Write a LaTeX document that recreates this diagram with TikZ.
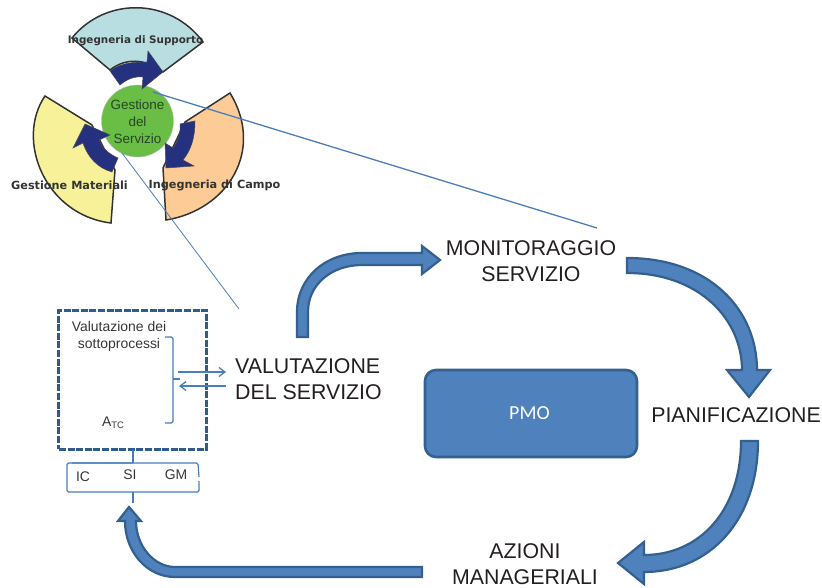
\documentclass[tikz,border=0pt]{standalone}
\usepackage{fontspec}
\setmainfont{Liberation Sans}
\newfontfamily\verdanaish{DejaVu Sans}
\newfontfamily\calibriish{Carlito}
\usetikzlibrary{arrows.meta}
\definecolor{lineblue}{HTML}{4A7EBB}
\definecolor{bigfill}{HTML}{4F81BD}
\definecolor{bigedge}{HTML}{33608F}
\definecolor{navyarrow}{HTML}{25307F}
\definecolor{inktext}{HTML}{231F20}
\tikzset{
  wedge/.style={draw=black!80,line width=1.5bp},
  navy/.style={fill=navyarrow,draw=black!70,line width=0.5bp},
  bigarrow/.style={fill=bigfill,draw=bigedge,line width=2.2bp,line join=miter},
  biglabel/.style={font=\fontsize{21.4}{26}\selectfont,text=inktext,align=center,inner sep=0pt},
  smalllabel/.style={font=\fontsize{14}{17}\selectfont,text=inktext!90,align=center,inner sep=0pt},
  wedgelabel/.style={font=\verdanaish\bfseries\fontsize{11.3}{12}\selectfont,text=black!80,inner sep=0pt},
  thinlink/.style={draw=lineblue,line width=1.3bp},
  bracket/.style={draw=lineblue,line width=1.2bp,rounded corners=1.5bp},
  flow/.style={draw=lineblue,line width=1.3bp,-{Straight Barb[length=6bp,width=9bp,line width=1.3bp]}}
}
\begin{document}
\begin{tikzpicture}[x=1bp,y=-1bp]
\useasboundingbox (0,0) rectangle (822,588);
% wedges
\draw[wedge,fill={rgb,255:red,184;green,222;blue,226}] (72,38) .. controls (105,-3) and (170,-3) .. (203,42) -- (163,72) .. controls (145,58) and (125,58) .. (110,70) -- cycle;
\draw[wedge,fill={rgb,255:red,247;green,242;blue,154}] (45,96) -- (92,125) -- (115,170) -- (111,223) .. controls (45,215) and (15,140) .. (45,96) -- cycle;
\draw[wedge,fill={rgb,255:red,252;green,203;blue,150}] (230,93) .. controls (265,150) and (228,210) .. (166,220) -- (163,168) -- (185,122) -- cycle;
% circle
\node[circle,draw=black!25,line width=0.4bp,fill={rgb,255:red,106;green,189;blue,69},minimum size=72bp,inner sep=0pt] (hub) at (137.5,121) {};
% navy arrows
\draw[navy] (110,71) .. controls (122,62) and (135,62) .. (147,62) -- (148,51) -- (163,72) -- (142,89) -- (143,77) .. controls (135,76) and (127,79) .. (120,85) -- cycle;
\draw[navy] (118,158) -- (112,172) .. controls (98,168) and (88,158) .. (83,143) -- (73,148) -- (85,124) -- (110,135) -- (99,140) .. controls (102,148) and (109,154) .. (118,158) -- cycle;
\draw[navy] (180,124) -- (195,121) .. controls (195,138) and (191,150) .. (183,160) -- (194,166) -- (166,168) -- (165,143) -- (173,148) .. controls (178,141) and (181,132) .. (180,124) -- cycle;
% leader lines
\coordinate (hubR) at (153,92);
\coordinate (hubL) at (122,153);
\coordinate (monTop) at (597,228);
\coordinate (valTop) at (239,309);
\draw[thinlink] (hubR) -- (monTop);
\draw[draw=lineblue,line width=0.8bp] (hubL) -- (valTop);
% hub and wedge labels
\node[font=\fontsize{13.5}{17}\selectfont,text={rgb,255:red,38;green,70;blue,40},align=center,inner sep=0pt] (hubtext) at (137.5,122) {Gestione\\del\\Servizio};
\node[wedgelabel,font=\verdanaish\bfseries\fontsize{10.4}{12}\selectfont] (ingsup) at (135.5,41) {Ingegneria di Supporto};
\node[wedgelabel] (gesmat) at (69.5,185) {Gestione Materiali};
\node[wedgelabel] (ingcam) at (214.5,185) {Ingegneria di Campo};
% dashed box
\node[draw={rgb,255:red,47;green,92;blue,143},line width=3bp,dash pattern=on 7bp off 1.6bp,minimum width=147bp,minimum height=139bp,inner sep=0pt] (box) at (132.5,379.5) {};
\node[smalllabel] (valsub) at (119,336.5) {Valutazione dei\\sottoprocessi};
\node[smalllabel,font=\fontsize{14}{15}\selectfont] (atc) at (113,423) {A\raisebox{-0.25ex}{\fontsize{9.5}{10}\selectfont TC}};
% right bracket
\draw[bracket] (165,337) -- (173,337) -- (173,423) -- (165,423);
\coordinate (brmid) at (173,379);
\coordinate (brtip) at (180,379);
\draw[bracket] (brmid) -- (brtip);
% labels
\node[biglabel,align=left,anchor=west] (val) at (235,379) {VALUTAZIONE\\DEL SERVIZIO};
\node[biglabel] (mon) at (531,261) {MONITORAGGIO\\SERVIZIO};
\node[biglabel] (pia) at (736,415) {PIANIFICAZIONE};
\node[biglabel] (azi) at (525,564.5) {AZIONI\\MANAGERIALI};
% flows between box and label
\coordinate (flowA) at (178,372);
\coordinate (flowB) at (226,372);
\coordinate (flowC) at (226,386);
\coordinate (flowD) at (179,386);
\draw[flow] (flowA) -- (flowB);
\draw[flow] (flowC) -- (flowD);
% lower bracket
\coordinate (boxB) at (133,450);
\coordinate (brT) at (133,463);
\coordinate (brB) at (133,492);
\coordinate (brE) at (133,503);
\draw[bracket] (boxB) -- (brT);
\draw[bracket] (brE) -- (brB);
\draw[bracket] (72,463) -- (194,463) -- (198,463) -- (199,477);
\draw[bracket] (67,477) -- (67,463) -- (133,463);
\draw[bracket] (67,477) -- (67,492) -- (199,492) -- (199,481);
\node[smalllabel] (ic) at (83,476.5) {IC};
\node[smalllabel] (si) at (130,475) {SI};
\node[smalllabel] (gm) at (176,475) {GM};
% PMO
\node[draw=bigedge,fill=bigfill,line width=2.6bp,rounded corners=11bp,minimum width=212bp,minimum height=87bp,inner sep=0pt,text=white,font=\calibriish\fontsize{20}{22}\selectfont] (pmo) at (531,413.5) {\hspace{-3bp}PMO};
% big arrows
\draw[bigarrow] (297,337) -- (297,312) .. controls (297,278) and (325,253) .. (362,253) -- (422,253) -- (422,246) -- (440,260) -- (422,274) -- (422,265) -- (362,265) .. controls (332,265) and (308,284) .. (308,312) -- (308,337) -- cycle;
\draw[bigarrow] (627,258) .. controls (710,258) and (757,310) .. (757,370) -- (770,370) -- (749,397) -- (727,370) -- (742,370) .. controls (742,320) and (700,273) .. (627,273) -- cycle;
\draw[bigarrow] (758,441) .. controls (758,520) and (710,572) .. (644,572) -- (644,584) -- (618,563) -- (644,542) -- (644,555) .. controls (700,555) and (741,510) .. (741,441) -- cycle;
\draw[bigarrow] (422,577) -- (175,577) .. controls (147,577) and (125,552) .. (125,521) -- (118,521) -- (129,507) -- (141,521) -- (136,521) .. controls (136,546) and (154,567) .. (175,567) -- (422,567) -- cycle;
\end{tikzpicture}
\end{document}
